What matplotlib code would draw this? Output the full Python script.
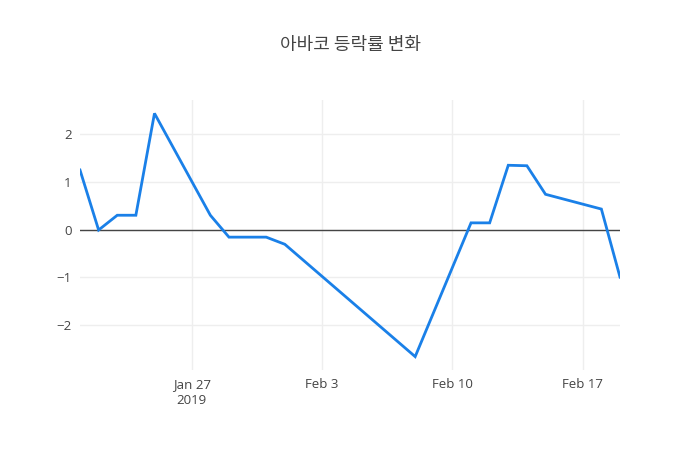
import matplotlib
matplotlib.use("Agg")
import matplotlib.pyplot as plt
import matplotlib.dates as mdates
import numpy as np
import pandas as pd

dates = ["2019-01-21", "2019-01-22", "2019-01-23", "2019-01-24", "2019-01-25",
         "2019-01-28", "2019-01-29", "2019-01-31", "2019-02-01", "2019-02-08",
         "2019-02-11", "2019-02-12", "2019-02-13", "2019-02-14", "2019-02-15",
         "2019-02-18", "2019-02-19"]
changes = [1.25, -0.01, 0.30, 0.30, 2.44,
           0.30, -0.16, -0.16, -0.31, -2.67,
           0.14, 0.14, 1.35, 1.34, 0.74,
           0.43, -1.00]
title = "아바코 등락률 변화"
xtick_dates = ["2019-01-27", "2019-02-03", "2019-02-10", "2019-02-17"]
xtick_labels = ["Jan 27\n2019", "Feb 3", "Feb 10", "Feb 17"]
yticks = [-2, -1, 0, 1, 2]

plt.rcParams['font.family'] = ['Open Sans', 'Noto Sans CJK KR', 'DejaVu Sans']

x = pd.to_datetime(dates)
fig = plt.figure(figsize=(7, 4.5), dpi=100)
ax = fig.add_axes([80/700, 80/450, 540/700, 270/450])

ax.plot(x, changes, color='#1a80e8', linewidth=2, solid_joinstyle='miter', zorder=3)

ymin, ymax = min(changes), max(changes)
span = ymax - ymin
ax.set_ylim(ymin - span * 0.055, ymax + span * 0.055)
ax.set_xlim(x[0], x[-1])

ax.set_xticks(pd.to_datetime(xtick_dates))
ax.set_xticklabels(xtick_labels)
ax.set_yticks(yticks)
ax.set_yticklabels([f"\u2212{abs(v)}" if v < 0 else str(v) for v in yticks])

ax.grid(True, color='#eeeeee', linewidth=1, zorder=0)
ax.axhline(0, color='#444444', linewidth=1, zorder=2)
for s in ax.spines.values():
    s.set_visible(False)
ax.tick_params(length=0, labelsize=9.5, colors='#444444')
ax.tick_params(axis='x', pad=6)
ax.tick_params(axis='y', pad=6)
for lbl in ax.get_xticklabels():
    lbl.set_linespacing(1.25)

fig.text(350/700, 1 - 45/450, title, ha='center', va='center',
         fontsize=13, color='#444444', family=['Noto Sans CJK KR', 'DejaVu Sans'])

fig.savefig('out.png', dpi=100, facecolor='white')
